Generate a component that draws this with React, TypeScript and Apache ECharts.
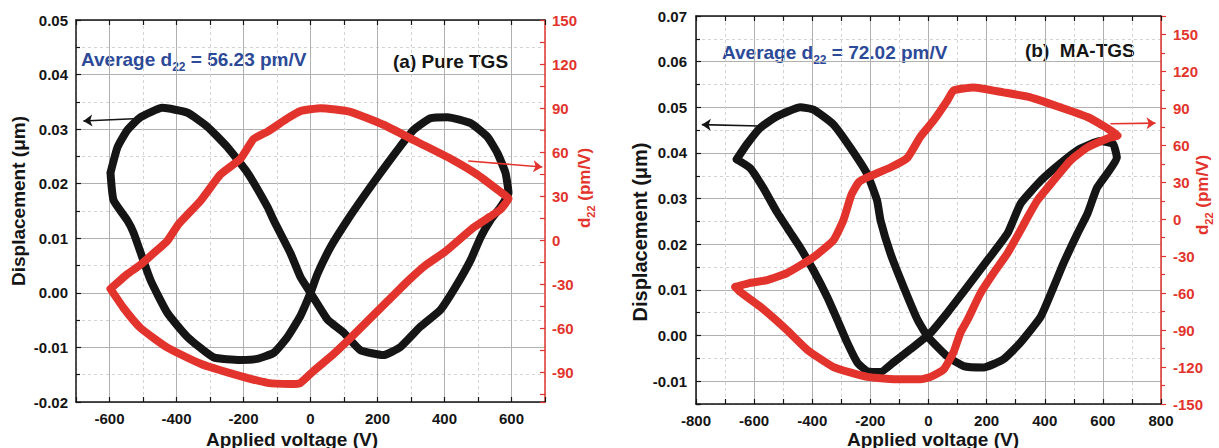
import React, { useEffect, useRef } from 'react';
import * as echarts from 'echarts';

const FONT = '"Liberation Sans", Arial, Helvetica, sans-serif';
const BLACK = '#151515';
const RED = '#e2342c';
const BLUE = '#2c4a98';
const GRID_SOLID = '#b0b0b0';
const GRID_DASH = '#d3d3d3';

// (a) Pure TGS : displacement loop [V, um]
const leftDisp: number[][] = [
  [-597, 0.022], [-576, 0.0267], [-547, 0.0298], [-507, 0.0322], [-442, 0.0339], [-367, 0.033],
  [-307, 0.0304], [-248, 0.0267], [-188, 0.022], [-128, 0.0157], [-110, 0.0133], [-60, 0.0073],
  [-30, 0.0029], [0, 0], [51, -0.0049], [99, -0.0073], [149, -0.0105], [218, -0.0114],
  [269, -0.0099], [328, -0.0062], [388, -0.0031], [433, 0.0011], [478, 0.006], [508, 0.0102],
  [537, 0.0133], [567, 0.0157], [591, 0.0183], [582, 0.022], [558, 0.0256], [528, 0.0286],
  [478, 0.0311], [409, 0.0322], [358, 0.032], [307, 0.0298], [260, 0.0262], [209, 0.022],
  [158, 0.0176], [110, 0.0133], [60, 0.0084], [21, 0.0035], [0, 0], [-30, -0.0042],
  [-70, -0.0082], [-110, -0.011], [-160, -0.0121], [-209, -0.0123], [-290, -0.0118],
  [-367, -0.0081], [-427, -0.0037], [-478, 0.0024], [-528, 0.011], [-547, 0.0133],
  [-588, 0.017], [-597, 0.022],
];
// (a) Pure TGS : d22 loop [V, pm/V]
const leftD22: number[][] = [
  [-597, -33], [-547, -23], [-507, -16.5], [-472, -9.5], [-428, -0.5], [-394, 11], [-328, 27],
  [-269, 44.8], [-209, 55.6], [-170, 69], [-128, 74], [-69, 83], [-30, 88], [30, 90], [119, 87.5],
  [218, 78.7], [319, 67], [418, 55.6], [498, 44.8], [567, 33], [591, 28.5], [567, 21],
  [537, 16.3], [487, 8.8], [403, -7.5], [343, -17], [290, -27.8], [230, -41.4], [170, -55],
  [119, -66.5], [69, -77.3], [9, -88.9], [-30, -97], [-60, -97.7], [-128, -97], [-230, -91],
  [-328, -84], [-427, -73], [-507, -59.7], [-558, -46], [-597, -33],
];
// (b) MA-TGS : displacement loop [V, um]
const rightDisp: number[][] = [
  [-660, 0.0386], [-625, 0.0419], [-579, 0.0455], [-522, 0.048], [-441, 0.05], [-396, 0.0495],
  [-328, 0.0463], [-269, 0.0412], [-211, 0.0354], [-177, 0.0296], [-165, 0.0252], [-131, 0.018],
  [-86, 0.0107], [-38, 0.0035], [-3, -0.0002], [65, -0.0046], [121, -0.0067], [190, -0.007],
  [258, -0.0052], [317, -0.0015], [386, 0.0041], [431, 0.0107], [465, 0.0159], [513, 0.0224],
  [547, 0.0267], [580, 0.0324], [648, 0.039], [635, 0.042], [590, 0.0426], [521, 0.0409],
  [452, 0.0376], [386, 0.0339], [317, 0.0289], [272, 0.0224], [203, 0.0165], [134, 0.0107],
  [65, 0.005], [7, 0.0006], [-62, -0.003], [-121, -0.0059], [-165, -0.008], [-211, -0.0078],
  [-245, -0.0059], [-280, -0.0015], [-314, 0.0035], [-349, 0.0085], [-396, 0.0143],
  [-442, 0.0193], [-476, 0.0226], [-521, 0.027], [-569, 0.0324], [-614, 0.0367], [-660, 0.0386],
];
// (b) MA-TGS : d22 loop [V, pm/V]
const rightD22: number[][] = [
  [-665, -55], [-620, -52], [-555, -49.4], [-487, -43.7], [-396, -30.8], [-327, -17], [-293, -0.8],
  [-265, 20], [-240, 30], [-211, 34], [-131, 42], [-72, 50], [-28, 67], [17, 80], [65, 96.4], [86, 104.5],
  [155, 107], [258, 103], [351, 99], [452, 91], [547, 83], [616, 73.7], [651, 68], [616, 65.6],
  [547, 58.3], [489, 47.8], [431, 31.6], [375, 15.4], [341, 1.6], [317, -8.9], [272, -27.5],
  [224, -43.7], [179, -60], [134, -81.8], [110, -92], [86, -108], [52, -122], [7, -128],
  [-28, -130], [-96, -130], [-211, -128], [-327, -120], [-417, -106], [-487, -90], [-579, -71],
  [-648, -59], [-665, -55],
];

// arrow annotations [tail, head] in data units
const leftDispArrow = [[-528, 0.0319], [-678, 0.0315]];
const leftD22Arrow = [[471, 54], [692, 50]];
const rightDispArrow = [[-580, 0.0459], [-780, 0.0462]];
const rightD22Arrow = [[626, 77.5], [781, 78]];

const texts = {
  avgA: '56.23',
  avgB: '72.02',
  titleA: '(a) Pure TGS',
  titleB: '(b)  MA-TGS',
  xName: 'Applied voltage (V)',
  yName: 'Displacement (\u03bcm)',
};

const lbl = (color: string) => ({ fontFamily: FONT, fontWeight: 'bold' as const, fontSize: 15, color });
const solid = { show: true, lineStyle: { color: GRID_SOLID, width: 1, type: 'solid' as const } };
const dashed = { show: true, lineStyle: { color: GRID_DASH, width: 1, type: [3, 3] as any } };
const line = (color: string) => ({ show: true, onZero: false, lineStyle: { color, width: 1.5 } });
const tick = (color: string, inside = true, length = 5) => ({ show: true, inside, length, lineStyle: { color, width: 1.2 } });

const arrowMark = (pts: number[][], color: string) => ({
  silent: true,
  symbol: ['none', 'arrow'],
  symbolSize: 9,
  label: { show: false },
  lineStyle: { color, width: 1.6, type: 'solid' },
  emphasis: { disabled: true },
  data: [[{ coord: pts[0] }, { coord: pts[1] }]],
});

const richTxt = (color: string, size: number, sub: number, pad: number) => ({
  a: { fontSize: size, fontWeight: 'bold', fontFamily: FONT, fill: color },
  s: { fontSize: sub, fontWeight: 'bold', fontFamily: FONT, fill: color, padding: [pad, 0, 0, 0] },
});

const lineSeries = (data: number[][], x: number, y: number, color: string, z: number, arrow: number[][]) => ({
  type: 'line', xAxisIndex: x, yAxisIndex: y, data, showSymbol: false, symbol: 'none', z, smooth: 0.15,
  lineStyle: { color, width: 8, join: 'round', cap: 'round' }, itemStyle: { color },
  markLine: arrowMark(arrow, color),
});

export default function App() {
  const ref = useRef<HTMLDivElement>(null);
  useEffect(() => {
    if (!ref.current) return;
    const chart = echarts.init(ref.current, null, { renderer: 'svg' });
    const G0 = { left: 76, top: 20, width: 469, height: 382 };
    const G1 = { left: 696, top: 16, width: 465, height: 388 };
    const G2 = { left: G0.left + G0.width / 14, top: 20, width: (G0.width * 12) / 14, height: 382 };
    const option: any = {
      animation: false,
      backgroundColor: '#ffffff',
      grid: [G0, G1, G2].map((g) => ({ ...g, containLabel: false, outerBoundsMode: 'none' })),
      xAxis: [
        {
          gridIndex: 0, type: 'value', position: 'bottom', min: -700, max: 700, interval: 100,
          axisLine: line(BLACK), axisTick: tick(BLACK),
          axisLabel: { ...lbl(BLACK), margin: 9, formatter: (v: number) => (Math.round(v) % 200 === 0 ? String(Math.round(v)) : '') },
          splitLine: dashed,
        },
        {
          gridIndex: 0, type: 'value', position: 'top', min: -700, max: 700, interval: 100,
          axisLine: line(BLACK), axisTick: tick(BLACK), axisLabel: { show: false }, splitLine: { show: false },
        },
        {
          gridIndex: 1, type: 'value', position: 'bottom', min: -800, max: 800, interval: 200,
          axisLine: line(BLACK), axisTick: tick(BLACK),
          minorTick: { show: true, splitNumber: 2, length: 5, lineStyle: { color: BLACK, width: 1.2 } },
          axisLabel: { ...lbl(BLACK), margin: 9, showMinLabel: true, showMaxLabel: true },
          splitLine: solid, minorSplitLine: dashed,
        },
        {
          gridIndex: 1, type: 'value', position: 'top', min: -800, max: 800, interval: 100,
          axisLine: line(BLACK), axisTick: tick(BLACK), axisLabel: { show: false }, splitLine: { show: false },
        },
        {
          gridIndex: 2, type: 'value', position: 'bottom', min: -600, max: 600, interval: 200,
          axisLine: { show: false, onZero: false }, axisTick: { show: false }, axisLabel: { show: false },
          splitLine: solid,
        },
      ],
      yAxis: [
        {
          gridIndex: 0, type: 'value', position: 'left', min: -0.02, max: 0.05, interval: 0.01,
          axisLine: line(BLACK), axisTick: tick(BLACK),
          minorTick: { show: true, splitNumber: 2, length: 4, lineStyle: { color: BLACK, width: 1.2 } },
          axisLabel: { ...lbl(BLACK), margin: 8, formatter: (v: number) => (Math.round(v * 100) / 100).toFixed(2) },
          splitLine: solid, minorSplitLine: dashed,
        },
        {
          gridIndex: 0, type: 'value', position: 'right', inverse: true, min: 0, max: 260, interval: 30,
          axisLine: line(RED), axisTick: tick(RED),
          minorTick: { show: true, splitNumber: 2, length: 5, lineStyle: { color: RED, width: 1.2 } },
          axisLabel: {
            ...lbl(RED), margin: 7,
            formatter: (v: number) => { const r = Math.round(150 - v); return r % 30 === 0 ? String(r) : ''; },
          },
          splitLine: { show: false },
        },
        { gridIndex: 0, type: 'value', min: -110, max: 150, show: false },
        {
          gridIndex: 1, type: 'value', position: 'left', inverse: true, min: 0, max: 0.085, interval: 0.01,
          axisLine: line(BLACK), axisTick: tick(BLACK),
          minorTick: { show: true, splitNumber: 2, length: 4, lineStyle: { color: BLACK, width: 1.2 } },
          axisLabel: {
            ...lbl(BLACK), margin: 9,
            formatter: (v: number) => {
              const r = (0.07 - v) * 100;
              if (Math.abs(r - Math.round(r)) > 1e-6) return '';
              return (Math.round(r) / 100).toFixed(2);
            },
          },
          splitLine: solid, minorSplitLine: dashed,
        },
        { gridIndex: 1, type: 'value', min: -0.015, max: 0.07, show: false },
        {
          gridIndex: 1, type: 'value', position: 'right', min: -150, max: 165, interval: 30,
          axisLine: line(RED), axisTick: tick(RED, false),
          minorTick: { show: true, splitNumber: 2, length: 4, lineStyle: { color: RED, width: 1.2 } },
          axisLabel: { ...lbl(RED), margin: 12, formatter: (v: number) => (v > 151 ? '' : String(Math.round(v))) },
          splitLine: { show: false },
        },
        { gridIndex: 2, type: 'value', min: 0, max: 1, show: false },
      ],
      series: [
        lineSeries(leftDisp, 0, 0, BLACK, 3, leftDispArrow),
        lineSeries(leftD22, 0, 2, RED, 4, leftD22Arrow),
        lineSeries(rightDisp, 2, 4, BLACK, 3, rightDispArrow),
        lineSeries(rightD22, 2, 5, RED, 4, rightD22Arrow),
      ],
      graphic: [
        { type: 'text', x: 18, y: 201, rotation: Math.PI / 2, style: { text: texts.yName, font: `bold 19px ${FONT}`, fill: BLACK, align: 'center', verticalAlign: 'middle' } },
        { type: 'text', x: 640, y: 232, rotation: Math.PI / 2, style: { text: texts.yName, font: `bold 20px ${FONT}`, fill: BLACK, align: 'center', verticalAlign: 'middle' } },
        { type: 'text', x: 292, y: 439, style: { text: texts.xName, font: `bold 19px ${FONT}`, fill: BLACK, align: 'center', verticalAlign: 'middle' } },
        { type: 'text', x: 933, y: 439, style: { text: texts.xName, font: `bold 19px ${FONT}`, fill: BLACK, align: 'center', verticalAlign: 'middle' } },
        { type: 'text', x: 584, y: 188, rotation: Math.PI / 2, style: { text: '{a|d}{s|22}{a| (pm/V)}', rich: richTxt(RED, 17, 11, 14), align: 'center', verticalAlign: 'middle' } },
        { type: 'text', x: 1202, y: 195, rotation: Math.PI / 2, style: { text: '{a|d}{s|22}{a| (pm/V)}', rich: richTxt(RED, 17, 11, 14), align: 'center', verticalAlign: 'middle' } },
        { type: 'text', x: 81, y: 59, style: { text: `{a|Average d}{s|22}{a| = ${texts.avgA} pm/V}`, rich: richTxt(BLUE, 19, 12, 16), align: 'left', verticalAlign: 'middle' } },
        { type: 'text', x: 722, y: 52, style: { text: `{a|Average d}{s|22}{a| = ${texts.avgB} pm/V}`, rich: richTxt(BLUE, 19, 12, 16), align: 'left', verticalAlign: 'middle' } },
        { type: 'text', x: 393, y: 61, style: { text: texts.titleA, font: `bold 19px ${FONT}`, fill: BLACK, align: 'left', verticalAlign: 'middle' } },
        { type: 'text', x: 1025, y: 50, style: { text: texts.titleB, font: `bold 19px ${FONT}`, fill: BLACK, align: 'left', verticalAlign: 'middle' } },
      ],
    };
    chart.setOption(option);
    return () => chart.dispose();
  }, []);
  return (
    <div
      ref={ref}
      style={{ position: 'fixed', left: 0, top: 0, width: 1219, height: 448, background: '#fff' }}
    />
  );
}
